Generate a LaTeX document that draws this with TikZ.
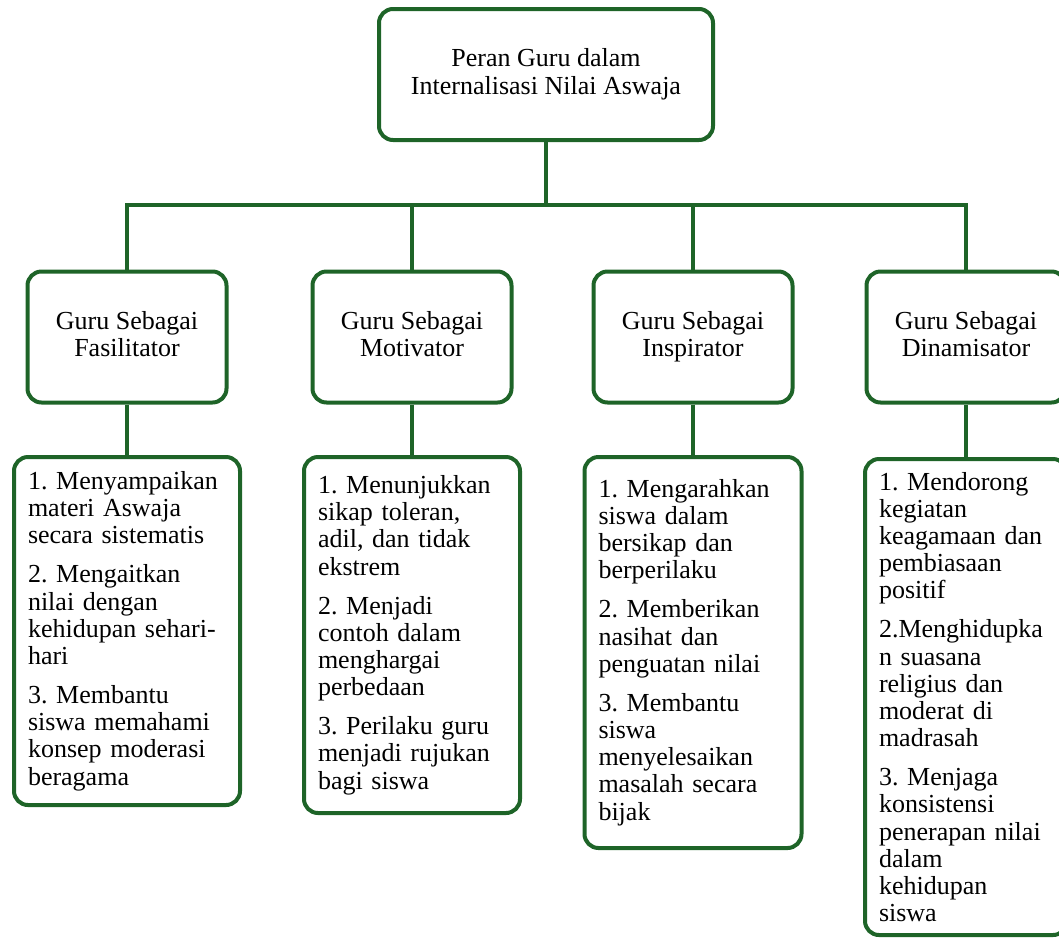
\documentclass[tikz,border=0pt]{standalone}
\usepackage{fontspec}
\setmainfont{Liberation Serif}
\frenchspacing
\definecolor{daun}{RGB}{30,100,40}
\tikzset{
    rootbox/.style ={
        shape=rectangle,
        rounded corners=14pt,
        draw=daun,
        line width=4pt,
        fill=white,
        align=center,
        font=\fontsize{26}{28.3}\selectfont,
        minimum width=334pt,
        minimum height=131pt
    },
    rolebox/.style ={
        shape=rectangle,
        rounded corners=14pt,
        draw=daun,
        line width=4pt,
        fill=white,
        align=center,
        font=\fontsize{26}{27.2}\selectfont,
        execute at end node=\vphantom{p},
        minimum width=199pt,
        minimum height=131pt
    },
    listbox/.style ={
        shape=rectangle,
        rounded corners=14pt,
        draw=daun,
        line width=4pt,
        fill=white,
        anchor=north,
        align=left,
        inner xsep=14pt,
        inner ysep=0pt,
        font=\fontsize{26}{27.2}\selectfont
    },
    link/.style ={
        draw=daun,
        line width=4pt
    }
}
\newcommand{\gap}{\\[11.8pt]}

\begin{document}
\begin{tikzpicture}[x=1pt,y=-1pt]
    \useasboundingbox (0,0) rectangle (1059,938);
    \node[rootbox] (peran) at(546,74.5) {Peran Guru dalam\\Internalisasi Nilai Aswaja};
    \node[rolebox] (fasil) at(127,337) {Guru Sebagai\\Fasilitator};
    \node[rolebox] (motiv) at(412,337) {Guru Sebagai\\Motivator};
    \node[rolebox] (inspi) at(693,337) {Guru Sebagai\\Inspirator};
    \node[rolebox] (dinam) at(966,337) {Guru Sebagai\\Dinamisator};
    \coordinate (bar) at(546,205);
    \node[listbox, text width=198pt, minimum height=348pt] (fasil-isi) at(127,455)
        {1. Menyampaikan\\materi Aswaja\\secara sistematis\gap
         2. Mengaitkan\\nilai dengan\\kehidupan sehari-\\hari\gap
         3. Membantu\\siswa memahami\\konsep moderasi\\beragama};
    \node[listbox, text width=188pt, minimum height=356pt] (motiv-isi) at(412,455)
        {1. Menunjukkan\\sikap toleran,\\adil, dan tidak\\ekstrem\gap
         2. Menjadi\\contoh dalam\\menghargai\\perbedaan\gap
         3. Perilaku guru\\menjadi rujukan\\bagi siswa};
    \node[listbox, text width=189pt, minimum height=391pt] (inspi-isi) at(693,455)
        {1. Mengarahkan\\siswa dalam\\bersikap dan\\berperilaku\gap
         2. Memberikan\\nasihat dan\\penguatan nilai\gap
         3. Membantu\\siswa\\menyelesaikan\\masalah secara\\bijak};
    \node[listbox, text width=174pt, minimum height=476pt] (dinam-isi) at(966,457)
        {1. Mendorong\\kegiatan\\keagamaan dan\\pembiasaan\\positif\gap
         2.Menghidupka\\n suasana\\religius dan\\moderat di\\madrasah\gap
         3. Menjaga\\konsistensi\\penerapan nilai\\dalam\\kehidupan\\siswa};
    % garis penghubung
    \draw[link] (peran) -- (bar);
    \draw[link] (bar) -| (fasil);
    \draw[link] (bar) -| (motiv);
    \draw[link] (bar) -| (inspi);
    \draw[link] (bar) -| (dinam);
    \draw[link] (fasil) -- (fasil-isi);
    \draw[link] (motiv) -- (motiv-isi);
    \draw[link] (inspi) -- (inspi-isi);
    \draw[link] (dinam) -- (dinam-isi);
\end{tikzpicture}
\end{document}
